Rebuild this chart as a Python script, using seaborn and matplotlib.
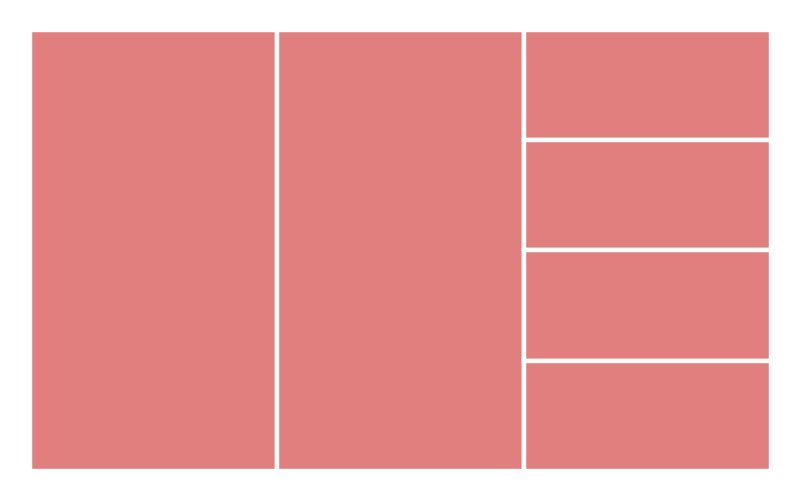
import matplotlib
matplotlib.use("Agg")
import matplotlib.pyplot as plt
import seaborn as sns
from matplotlib.patches import Rectangle

# Data: three columns, each split into stacked cells
groups = ["G1", "G2", "G3"]
labels = [["A"], ["B"], ["C", "D", "E", "F"]]
values = [[4], [4], [1, 1, 1, 1]]
color = "#E07F7E"

sns.set_theme(style="white")

W, H = 741.0, 441.0
fig = plt.figure(figsize=(8, 5), dpi=100)
ax = fig.add_axes([30 / 800, 1 - 471 / 500, W / 800, H / 500])

total = sum(sum(g) for g in values)
x = 0.0
for g in values:
    gsum = sum(g)
    w = W * gsum / total
    y = H
    for v in g:
        h = H * v / gsum
        ax.add_patch(Rectangle((x, y - h), w, h, facecolor=color,
                               edgecolor="white", linewidth=3.2))
        y -= h
    x += w

ax.set_xlim(0, W)
ax.set_ylim(0, H)
ax.axis("off")
fig.savefig("out.png", dpi=100, facecolor="white")
